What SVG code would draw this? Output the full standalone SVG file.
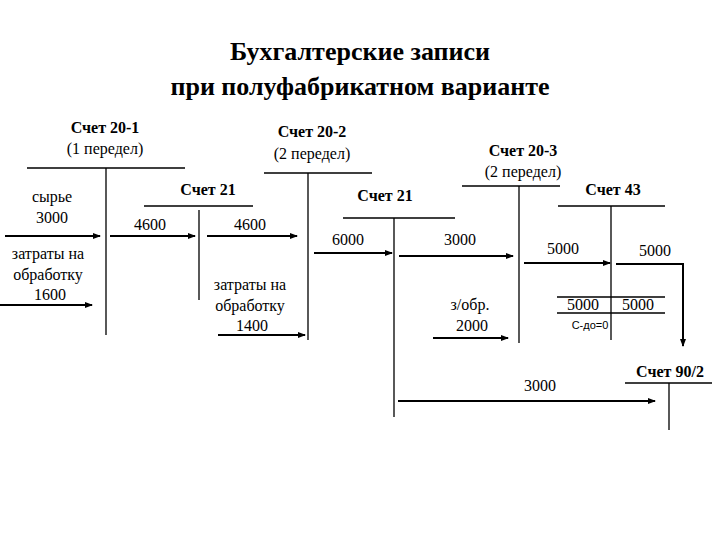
<svg xmlns="http://www.w3.org/2000/svg" width="720" height="540" viewBox="0 0 720 540">
<defs>
<style>
.t{font-size:26px;font-weight:bold;text-anchor:middle}
.h{font-size:16px;font-weight:bold;text-anchor:middle}
.r{font-size:16px;text-anchor:middle}
.s{font-family:"Liberation Sans",Arial,sans-serif;font-size:11px;text-anchor:middle}
.ln{stroke:#000;stroke-width:1.3;fill:none}
.ar{stroke:#000;stroke-width:2;fill:none;marker-end:url(#a)}
</style>
<marker id="a" markerWidth="8" markerHeight="6" refX="7" refY="3" orient="auto" markerUnits="userSpaceOnUse"><path d="M0,0L8,3L0,6z" fill="#000"/></marker>
</defs>
<rect width="720" height="540" fill="#fff"/>
<g font-family="'Liberation Serif', 'DejaVu Serif', serif">
<g id="title"><text class="t" x="360" y="60">Бухгалтерские записи</text><text class="t" x="360" y="95">при полуфабрикатном варианте</text></g>
<g id="acc201"><text class="h" x="105" y="133">Счет 20-1</text><text class="r" x="105" y="154">(1 передел)</text><path class="ln" d="M27,168H185M106,168V335"/>
<text class="r" x="52" y="202">сырье</text><text class="r" x="52" y="223">3000</text>
<text class="r" x="48" y="259">затраты на</text><text class="r" x="48" y="280">обработку</text><text class="r" x="50" y="300">1600</text></g>
<g id="acc21a"><text class="h" x="208" y="195">Счет 21</text><path class="ln" d="M144,206H253M199,210V300"/>
<text class="r" x="150" y="230">4600</text><text class="r" x="250" y="230">4600</text>
<text class="r" x="250" y="290">затраты на</text><text class="r" x="250" y="311">обработку</text><text class="r" x="252" y="331">1400</text></g>
<g id="acc202"><text class="h" x="312" y="137">Счет 20-2</text><text class="r" x="312" y="159">(2 передел)</text><path class="ln" d="M264,173H372M308,173V340"/></g>
<g id="acc21b"><text class="h" x="385" y="201">Счет 21</text><path class="ln" d="M343,218H455M394,218V417"/>
<text class="r" x="348" y="245">6000</text><text class="r" x="460" y="245">3000</text>
<text class="r" x="470" y="310">з/обр.</text><text class="r" x="472" y="331">2000</text></g>
<g id="acc203"><text class="h" x="523" y="156">Счет 20-3</text><text class="r" x="523" y="177">(2 передел)</text><path class="ln" d="M462,186H560M519,186V343"/></g>
<g id="acc43"><text class="h" x="613" y="195">Счет 43</text><path class="ln" d="M558,206H665M611,206V340M557,297H665M557,313H665"/>
<text class="r" x="563" y="254">5000</text><text class="r" x="655" y="256">5000</text>
<text class="r" x="583" y="310">5000</text><text class="r" x="638" y="310">5000</text><text class="s" x="590" y="329">С-до=0</text></g>
<g id="acc902"><text class="h" x="670" y="377">Счет 90/2</text><path class="ln" d="M625,383H712M669,383V430"/></g>
<text class="r" x="540" y="391">3000</text>
</g>
<g id="connectors">
<path class="ar" d="M5,236H100"/><path class="ar" d="M110,236H195"/><path class="ar" d="M207,236H297"/>
<path class="ar" d="M0,305H92"/><path class="ar" d="M218,335H305"/>
<path class="ar" d="M314,253H392"/><path class="ar" d="M399,256H513"/>
<path class="ar" d="M524,263H610"/><path class="ar" d="M616,264H683V346"/>
<path class="ar" d="M433,338H508"/><path class="ar" d="M398,401H655"/>
</g>
</svg>
